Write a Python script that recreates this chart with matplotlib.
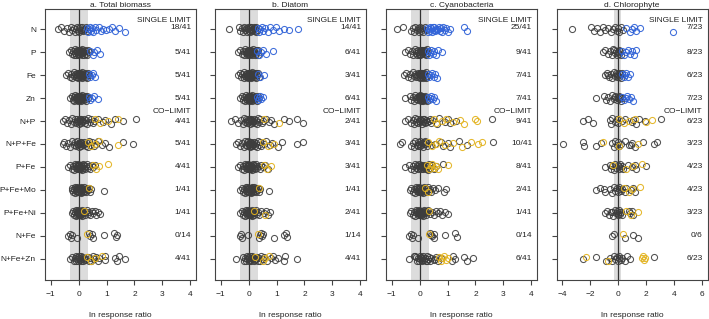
import matplotlib
matplotlib.use("Agg")
import matplotlib.pyplot as plt

plt.rcParams['font.family'] = ['Liberation Sans', 'DejaVu Sans']

rows = ["N", "P", "Fe", "Zn", "N+P", "N+P+Fe", "P+Fe", "P+Fe+Mo", "P+Fe+Ni", "N+Fe", "N+Fe+Zn"]
titles = ["a. Total biomass", "b. Diatom", "c. Cyanobacteria", "d. Chlorophyte"]

# ---- panel a: Total biomass ----
a_gray = [
    [-0.73,-0.62,-0.52,-0.42,-0.33,-0.27,-0.22,-0.17,-0.12,-0.08,-0.05,-0.02,0.0,0.03,0.06,0.09,0.12,0.15,0.18,0.21,0.24,0.27,0.3],
    [-0.33,-0.28,-0.24,-0.2,-0.17,-0.14,-0.12,-0.1,-0.08,-0.06,-0.04,-0.03,-0.02,-0.01,0.0,0.01,0.02,0.03,0.04,0.05,0.06,0.07,0.08,0.1,0.11,0.12,0.14,0.16,0.18,0.2,0.22,0.25,0.28,0.31,0.34,0.37],
    [-0.45,-0.38,-0.32,-0.27,-0.22,-0.18,-0.15,-0.12,-0.1,-0.08,-0.06,-0.04,-0.02,-0.01,0.0,0.01,0.02,0.03,0.04,0.05,0.07,0.08,0.09,0.1,0.12,0.13,0.15,0.17,0.19,0.21,0.23,0.25,0.27,0.3,0.32,0.35],
    [-0.29,-0.25,-0.21,-0.18,-0.15,-0.13,-0.11,-0.09,-0.07,-0.05,-0.04,-0.03,-0.02,-0.01,0.0,0.01,0.02,0.03,0.04,0.05,0.06,0.07,0.08,0.09,0.1,0.12,0.14,0.16,0.18,0.2,0.22,0.24,0.26,0.28,0.3,0.33],
    [-0.57,-0.5,-0.42,-0.35,-0.28,-0.22,-0.17,-0.13,-0.1,-0.07,-0.04,-0.02,0.0,0.02,0.04,0.06,0.08,0.1,0.12,0.14,0.17,0.2,0.23,0.27,0.31,0.35,0.4,0.45,0.5,0.56,0.7,0.86,0.95,1.15,1.3,1.6,2.05],
    [-0.57,-0.52,-0.45,-0.38,-0.3,-0.24,-0.18,-0.14,-0.1,-0.07,-0.04,-0.02,0.0,0.02,0.04,0.06,0.08,0.1,0.12,0.15,0.18,0.21,0.25,0.29,0.33,0.38,0.42,0.48,0.55,0.62,0.7,0.85,0.95,1.1,1.6,1.95],
    [-0.39,-0.3,-0.24,-0.19,-0.15,-0.12,-0.1,-0.08,-0.06,-0.04,-0.03,-0.02,-0.01,0.0,0.01,0.02,0.03,0.04,0.05,0.06,0.07,0.08,0.1,0.12,0.14,0.16,0.18,0.2,0.23,0.26,0.3,0.34,0.38,0.42,0.47,0.52,0.58],
    [-0.25,-0.22,-0.19,-0.16,-0.14,-0.12,-0.1,-0.08,-0.07,-0.06,-0.05,-0.04,-0.03,-0.02,-0.01,0.0,0.01,0.02,0.03,0.04,0.05,0.06,0.07,0.08,0.09,0.1,0.12,0.14,0.16,0.18,0.2,0.22,0.25,0.28,0.31,0.34,0.38,0.42,0.46,0.9],
    [-0.25,-0.2,-0.16,-0.13,-0.1,-0.08,-0.06,-0.05,-0.04,-0.03,-0.02,-0.01,0.0,0.01,0.02,0.03,0.04,0.05,0.06,0.07,0.08,0.09,0.1,0.11,0.12,0.14,0.16,0.18,0.22,0.26,0.3,0.34,0.38,0.42,0.47,0.52,0.58,0.64,0.7,0.75],
    [-0.36,-0.3,-0.27,-0.22,-0.05,0.36,0.42,0.47,0.52,0.9,1.25,1.33,1.38],
    [-0.3,-0.22,-0.18,-0.14,-0.1,-0.08,-0.06,-0.04,-0.02,0.0,0.02,0.04,0.06,0.08,0.1,0.12,0.14,0.17,0.2,0.23,0.27,0.32,0.36,0.4,0.45,0.5,0.55,0.62,0.68,0.72,0.93,0.96,1.3,1.38,1.45,1.65,0.3],
]
a_sig = [
    [0.3,0.33,0.36,0.4,0.44,0.48,0.53,0.58,0.64,0.72,0.8,0.88,0.98,1.08,1.2,1.32,1.45,1.65],
    [0.42,0.5,0.57,0.66,0.78],
    [0.38,0.42,0.47,0.52,0.6],
    [0.36,0.41,0.47,0.56,0.68],
    [0.6,0.78,1.05,1.4],
    [0.32,0.45,0.58,0.72,1.4],
    [0.5,0.62,0.72,1.04],
    [0.36],
    [0.2],
    [0.3],
    [0.3,0.45,0.6,0.85],
]
a_counts = ["18/41","5/41","5/41","5/41","4/41","5/41","4/41","1/41","1/41","0/14","4/41"]

# ---- panel b: Diatom ----
b_gray = [
    [-0.7,-0.35,-0.3,-0.25,-0.2,-0.16,-0.12,-0.09,-0.06,-0.04,-0.02,0.0,0.02,0.04,0.06,0.08,0.1,0.12,0.14,0.16,0.18,0.2,0.22,0.24,0.26,0.28,0.3],
    [-0.38,-0.3,-0.25,-0.2,-0.16,-0.13,-0.1,-0.08,-0.06,-0.04,-0.03,-0.02,-0.01,0.0,0.01,0.02,0.03,0.04,0.05,0.06,0.07,0.08,0.1,0.12,0.14,0.16,0.18,0.2,0.22,0.24,0.26,0.28,0.3,0.32,0.35],
    [-0.38,-0.32,-0.27,-0.22,-0.18,-0.15,-0.12,-0.1,-0.08,-0.06,-0.04,-0.03,-0.02,-0.01,0.0,0.01,0.02,0.03,0.04,0.05,0.06,0.07,0.08,0.09,0.1,0.11,0.12,0.14,0.16,0.18,0.2,0.22,0.24,0.26,0.28,0.3,0.33,0.36],
    [-0.3,-0.25,-0.2,-0.16,-0.13,-0.1,-0.08,-0.06,-0.04,-0.03,-0.02,-0.01,0.0,0.01,0.02,0.03,0.04,0.05,0.06,0.07,0.08,0.09,0.1,0.11,0.12,0.14,0.16,0.18,0.2,0.22,0.24,0.26,0.28,0.3,0.32],
    [-0.62,-0.5,-0.38,-0.26,-0.2,-0.15,-0.12,-0.09,-0.06,-0.04,-0.02,0.0,0.02,0.04,0.06,0.08,0.1,0.12,0.14,0.16,0.18,0.2,0.23,0.26,0.3,0.34,0.38,0.42,0.47,0.52,0.62,0.72,0.8,0.9,1.28,1.45,1.75,1.94,0.1],
    [-0.44,-0.38,-0.3,-0.22,-0.17,-0.13,-0.1,-0.07,-0.05,-0.03,-0.01,0.0,0.02,0.04,0.06,0.08,0.1,0.12,0.14,0.16,0.18,0.2,0.23,0.26,0.3,0.34,0.38,0.42,0.46,0.55,0.62,0.78,0.85,1.05,1.2,1.75,1.95,0.05],
    [-0.38,-0.3,-0.24,-0.2,-0.16,-0.13,-0.1,-0.08,-0.06,-0.04,-0.03,-0.02,-0.01,0.0,0.01,0.02,0.03,0.04,0.05,0.06,0.07,0.08,0.1,0.12,0.14,0.16,0.18,0.2,0.22,0.25,0.28,0.31,0.35,0.4,0.45,0.52,0.6,0.7],
    [-0.3,-0.25,-0.2,-0.16,-0.13,-0.1,-0.08,-0.07,-0.06,-0.05,-0.04,-0.03,-0.02,-0.01,0.0,0.01,0.02,0.03,0.04,0.05,0.06,0.07,0.08,0.09,0.1,0.11,0.12,0.14,0.16,0.18,0.2,0.22,0.24,0.26,0.28,0.3,0.33,0.36,0.4,0.72],
    [-0.3,-0.24,-0.19,-0.15,-0.12,-0.1,-0.08,-0.06,-0.04,-0.03,-0.02,-0.01,0.0,0.01,0.02,0.03,0.04,0.05,0.06,0.07,0.08,0.09,0.1,0.11,0.12,0.14,0.16,0.18,0.2,0.23,0.26,0.3,0.34,0.38,0.45,0.55,0.62,0.68,0.75],
    [-0.3,-0.26,-0.22,-0.03,0.38,0.45,0.49,0.52,0.9,1.25,1.33,1.38,0.4],
    [-0.44,-0.2,-0.16,-0.12,-0.09,-0.06,-0.04,-0.02,0.0,0.02,0.04,0.06,0.08,0.1,0.12,0.14,0.16,0.18,0.2,0.22,0.25,0.28,0.32,0.36,0.4,0.45,0.5,0.55,0.65,0.8,0.88,0.95,1.05,1.25,1.3,1.72,0.3],
]
b_sig = [
    [0.33,0.38,0.42,0.47,0.53,0.6,0.68,0.78,0.88,0.98,1.1,1.25,1.45,1.76],
    [0.3,0.38,0.45,0.52,0.62,0.88],
    [0.34,0.42,0.57],
    [0.3,0.34,0.37,0.41,0.45,0.5],
    [0.56,1.1],
    [0.5,0.7,0.92],
    [0.55,0.66,0.8],
    [0.38],
    [0.2,0.6],
    [0.32],
    [0.22,0.5,0.6,0.72],
]
b_counts = ["14/41","6/41","3/41","6/41","2/41","3/41","3/41","1/41","2/41","1/14","4/41"]

# ---- panel c: Cyanobacteria ----
c_gray = [
    [-0.8,-0.6,-0.3,-0.25,-0.2,-0.15,-0.1,-0.06,-0.03,0.0,0.03,0.06,0.1,0.14,0.18,0.24],
    [-0.51,-0.42,-0.35,-0.28,-0.22,-0.18,-0.14,-0.11,-0.08,-0.06,-0.04,-0.02,0.0,0.02,0.04,0.06,0.08,0.1,0.12,0.14,0.16,0.18,0.2,0.22,0.24,0.26,0.28,0.05,-0.01,0.11,0.15,0.01],
    [-0.57,-0.5,-0.42,-0.35,-0.3,-0.25,-0.2,-0.16,-0.12,-0.09,-0.06,-0.04,-0.02,0.0,0.02,0.04,0.06,0.08,0.1,0.12,0.14,0.16,0.18,0.2,0.22,0.24,0.26,0.01,0.03,0.05,0.07,0.09,-0.01,0.11],
    [-0.51,-0.35,-0.3,-0.25,-0.2,-0.16,-0.12,-0.09,-0.06,-0.04,-0.02,0.0,0.02,0.04,0.06,0.08,0.1,0.12,0.14,0.16,0.18,0.2,0.22,0.24,0.26,0.01,0.03,0.05,0.07,0.09,-0.01,0.11,-0.03,0.13],
    [-0.51,-0.42,-0.32,-0.25,-0.2,-0.15,-0.11,-0.08,-0.05,-0.02,0.0,0.02,0.05,0.08,0.11,0.14,0.17,0.2,0.24,0.28,0.32,0.36,0.4,0.45,0.62,0.7,0.9,1.0,1.1,1.3,2.6,0.15],
    [-0.71,-0.63,-0.3,-0.25,-0.2,-0.15,-0.1,-0.07,-0.04,-0.01,0.02,0.05,0.08,0.11,0.14,0.18,0.22,0.26,0.3,0.4,0.55,0.75,0.85,1.0,1.1,1.4,1.7,2.63,0.0,0.12,0.2],
    [-0.51,-0.38,-0.3,-0.24,-0.19,-0.15,-0.12,-0.09,-0.06,-0.04,-0.02,0.0,0.02,0.04,0.06,0.08,0.1,0.12,0.14,0.16,0.18,0.2,0.23,0.26,0.3,0.34,0.38,0.44,0.52,0.6,0.83,0.01,0.05],
    [-0.35,-0.3,-0.25,-0.2,-0.16,-0.13,-0.1,-0.08,-0.06,-0.04,-0.03,-0.02,-0.01,0.0,0.01,0.02,0.03,0.04,0.05,0.06,0.07,0.08,0.1,0.12,0.14,0.16,0.18,0.2,0.23,0.26,0.3,0.34,0.38,0.42,0.48,0.55,0.65,0.88,0.95],
    [-0.35,-0.3,-0.25,-0.2,-0.16,-0.13,-0.1,-0.08,-0.06,-0.04,-0.03,-0.02,-0.01,0.0,0.01,0.02,0.03,0.04,0.05,0.06,0.07,0.08,0.1,0.12,0.14,0.16,0.18,0.2,0.23,0.26,0.3,0.38,0.45,0.5,0.58,0.65,0.72,0.8,0.9,1.0],
    [-0.37,-0.32,-0.27,-0.22,-0.05,0.38,0.45,0.5,0.53,0.9,1.25,1.35,0.4],
    [-0.37,-0.12,-0.08,-0.05,-0.02,0.0,0.02,0.05,0.08,0.11,0.14,0.17,0.2,0.23,0.26,0.3,0.34,0.38,0.42,0.5,0.55,0.6,0.65,0.78,1.15,1.2,1.25,1.6,1.7,1.9,-0.15,0.1,0.04,0.28,-0.2],
]
c_sig = [
    [0.28,0.3,0.33,0.36,0.38,0.41,0.44,0.47,0.5,0.53,0.56,0.59,0.62,0.65,0.68,0.72,0.76,0.8,0.85,0.9,0.96,1.02,1.08,1.6,1.68],
    [0.3,0.34,0.38,0.42,0.47,0.52,0.58,0.65,0.8],
    [0.3,0.35,0.4,0.45,0.5,0.56,0.64],
    [0.3,0.34,0.38,0.42,0.47,0.52,0.58],
    [0.5,0.58,0.8,0.95,1.2,1.45,1.6,1.98,2.04],
    [0.3,0.45,0.6,0.7,0.92,1.2,1.5,1.85,2.1,2.25],
    [0.26,0.32,0.4,0.46,0.52,0.6,0.65,1.0],
    [0.2,0.3],
    [0.33],
    [0.33],
    [0.68,0.75,0.82,0.88,0.95,1.02],
]
c_counts = ["25/41","9/41","7/41","7/41","9/41","10/41","8/41","2/41","1/41","0/14","6/41"]

# ---- panel d: Chlorophyte ----
d_gray = [
    [-3.26,-1.9,-1.7,-1.5,-1.3,-1.1,-0.9,-0.7,-0.5,-0.35,-0.2,-0.1,0.0,0.1,0.2,0.35],
    [-1.07,-0.9,-0.75,-0.6,-0.45,-0.35,-0.25,-0.15,-0.05,0.0,0.05,0.1,0.15,0.2,-0.3],
    [-0.9,-0.8,-0.65,-0.5,-0.4,-0.3,-0.2,-0.1,-0.05,0.0,0.05,0.1,0.15,0.2,0.25,-0.7,-0.15],
    [-1.55,-1.0,-0.85,-0.7,-0.55,-0.4,-0.3,-0.2,-0.1,0.0,0.05,0.1,0.15,0.2,-0.25,0.25],
    [-2.5,-2.15,-1.8,-0.6,-0.5,-0.4,-0.2,-0.1,0.0,0.3,0.5,1.0,1.1,1.3,1.5,1.9,3.1],
    [-3.97,-2.5,-1.55,-1.2,-0.3,-0.2,-0.1,0.0,0.1,0.2,0.5,0.8,1.0,1.2,1.8,2.6,2.8,-2.45,-0.4,0.9],
    [-0.95,-0.6,-0.5,-0.4,-0.3,-0.2,-0.15,0.0,0.05,0.1,0.15,0.2,0.3,0.35,0.7,1.0,1.2,1.3,2.03],
    [-1.55,-1.3,-0.9,-0.6,-0.4,-0.3,-0.2,-0.1,0.0,0.05,0.1,0.2,0.3,0.5,0.6,0.9,1.1,1.2,-1.0],
    [-0.95,-0.8,-0.65,-0.5,-0.35,-0.25,-0.15,-0.1,0.0,0.05,0.1,0.15,0.2,0.3,0.75,0.85,1.0,1.1,-0.4,0.0],
    [-0.45,-0.3,0.5,1.1,1.4],
    [-2.5,-1.6,-0.85,-0.6,-0.45,-0.3,-0.2,-0.1,0.0,0.05,0.1,0.2,0.3,0.5,0.65,0.85,2.6],
]
d_sig = [
    [0.6,0.85,1.0,1.15,1.3,1.6,3.93],
    [0.3,0.45,0.6,0.7,0.85,1.0,1.15,1.3],
    [0.3,0.4,0.5,0.6,0.7,0.85],
    [0.3,0.4,0.55,0.65,0.8,0.95,1.1],
    [0.1,0.4,0.8,1.2,2.0,2.4],
    [-1.1,0.05,1.45],
    [-0.35,0.6,1.1,1.7],
    [0.4,0.8,1.0,1.55],
    [0.6,0.9,1.45],
    [0.35],
    [-2.3,-0.75,1.72,1.8,1.88,1.95],
]
d_counts = ["7/23","8/23","6/23","7/23","6/23","3/23","4/23","4/23","3/23","0/6","6/23"]

panels = [(a_gray, a_sig, a_counts), (b_gray, b_sig, b_counts),
          (c_gray, c_sig, c_counts), (d_gray, d_sig, d_counts)]
xlims = [(-1.2, 4.2), (-1.2, 4.2), (-1.2, 4.2), (-4.4, 6.4)]
xticks = [[-1, 0, 1, 2, 3, 4]] * 3 + [[-4, -2, 0, 2, 4, 6]]
bands = [(-0.31, 0.33), (-0.31, 0.33), (-0.31, 0.33), (-0.3, 0.2)]

GRAY = '#3d3d3d'
BLUE = '#3264d8'
GOLD = '#e3b320'
jit = [0.0, 0.09, -0.08, 0.04, -0.12, 0.12, -0.03, 0.07, -0.1, 0.02,
       0.11, -0.06, 0.05, -0.11, 0.1, -0.01, 0.08, -0.09, 0.03, -0.05]

W, H = 709, 319
fig = plt.figure(figsize=(W / 100, H / 100), dpi=100)
lefts = [45, 215, 386, 556.5]
pw = 151
top, bot = 9, 280
nrow = len(rows)
ypos = [nrow - i for i in range(nrow)]

for k, (gray, sig, counts) in enumerate(panels):
    ax = fig.add_axes([lefts[k] / W, 1 - bot / H, pw / W, (bot - top) / H])
    ax.axvspan(bands[k][0], bands[k][1], color='#dcdcdc', zorder=0, lw=0)
    ax.axvline(0, color='#333333', lw=0.9, zorder=1)
    for r in range(nrow):
        y0 = ypos[r]
        xs_g = gray[r]
        ys_g = [y0 + jit[i % len(jit)] for i in range(len(xs_g))]
        ax.plot(xs_g, ys_g, 'o', ms=4.4, mfc='none', mec=GRAY, mew=0.75, alpha=0.9, zorder=2)
        col = BLUE if r < 4 else GOLD
        xs_s = sig[r]
        ys_s = [y0 + jit[(i + 7) % len(jit)] for i in range(len(xs_s))]
        ax.plot(xs_s, ys_s, 'o', ms=4.4, mfc='none', mec=col, mew=0.75, alpha=0.95, zorder=3)
        yc = y0 + (0.1 if r in (0,) else 0.0)
        ax.text(0.968, yc, counts[r], transform=ax.get_yaxis_transform(),
                ha='right', va='center', fontsize=6, color='#222222')
    ax.text(0.968, ypos[0] + 0.38, "SINGLE LIMIT", transform=ax.get_yaxis_transform(),
            ha='right', va='center', fontsize=6, color='#222222')
    ax.text(0.968, ypos[4] + 0.4, "CO\u2212LIMIT", transform=ax.get_yaxis_transform(),
            ha='right', va='center', fontsize=6, color='#222222')
    ax.set_xlim(*xlims[k])
    ax.set_ylim(0.07, 11.885)
    ax.set_xticks(xticks[k])
    ax.set_xticklabels([str(t).replace('-', '\u2212') for t in xticks[k]], fontsize=6)
    ax.set_yticks(ypos)
    if k == 0:
        ax.set_yticklabels(rows, fontsize=6)
    else:
        ax.set_yticklabels([])
    ax.tick_params(axis='both', length=3.6, width=0.8, color='#444444', labelcolor='#222222', pad=3)
    ax.tick_params(axis='x', pad=4.5)
    for s in ax.spines.values():
        s.set_color('#444444')
        s.set_linewidth(0.8)
    ax.set_title(titles[k], fontsize=6, pad=1.5, color='#222222')
    ax.set_xlabel("ln response ratio", fontsize=6, color='#222222', labelpad=10)

fig.savefig("out.png", dpi=100)
